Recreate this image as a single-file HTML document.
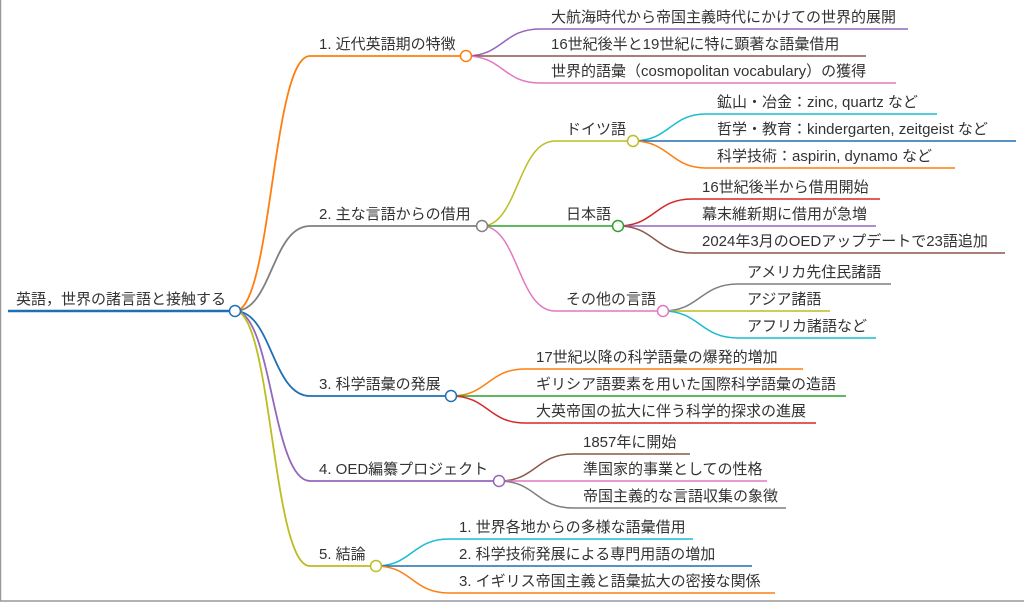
<!DOCTYPE html>
<html><head><meta charset="utf-8"><style>
html,body{margin:0;padding:0;background:#fff;}
svg{display:block;}
text{font-family:"Liberation Sans","Noto Sans CJK JP",sans-serif;font-size:15px;fill:#333;}
</style></head><body>
<svg width="1024" height="603" viewBox="0 0 1024 603" xmlns="http://www.w3.org/2000/svg">
<rect x="0.5" y="-1" width="1030" height="602" fill="none" stroke="#999" stroke-width="1.5"/>
<g fill="none">
<path d="M8 311H235" stroke="#1f6fb4" stroke-width="2.5"/>
<path d="M235 311C272 311 272 56 310 56H466" stroke="#ff7f0e" stroke-width="1.8"/>
<path d="M235 311C272 311 272 226 310 226H482" stroke="#7f7f7f" stroke-width="1.8"/>
<path d="M235 311C272 311 272 396 310 396H451" stroke="#1f6fb4" stroke-width="1.8"/>
<path d="M235 311C272 311 272 481 310 481H499" stroke="#9467bd" stroke-width="1.8"/>
<path d="M235 311C272 311 272 566 310 566H376" stroke="#bcbd22" stroke-width="1.8"/>
<path d="M466 56C503 56 503 29 540 29H908" stroke="#9467bd" stroke-width="1.5"/>
<path d="M466 56H866" stroke="#8c564b" stroke-width="1.5"/>
<path d="M466 56C503 56 503 83 540 83H896" stroke="#e377c2" stroke-width="1.5"/>
<path d="M482 226C518 226 518 141 555 141H633" stroke="#bcbd22" stroke-width="1.5"/>
<path d="M482 226H618" stroke="#2ca02c" stroke-width="1.5"/>
<path d="M482 226C518 226 518 311 555 311H663" stroke="#e377c2" stroke-width="1.5"/>
<path d="M633 141C670 141 670 114 706 114H937" stroke="#17becf" stroke-width="1.5"/>
<path d="M633 141H1016" stroke="#1f6fb4" stroke-width="1.5"/>
<path d="M633 141C670 141 670 168 706 168H955" stroke="#ff7f0e" stroke-width="1.5"/>
<path d="M618 226C655 226 655 199 692 199H880" stroke="#d62728" stroke-width="1.5"/>
<path d="M618 226H876" stroke="#9467bd" stroke-width="1.5"/>
<path d="M618 226C655 226 655 253 692 253H1005" stroke="#8c564b" stroke-width="1.5"/>
<path d="M663 311C700 311 700 284 738 284H891" stroke="#7f7f7f" stroke-width="1.5"/>
<path d="M663 311H830" stroke="#bcbd22" stroke-width="1.5"/>
<path d="M663 311C700 311 700 338 738 338H876" stroke="#17becf" stroke-width="1.5"/>
<path d="M451 396C488 396 488 369 525 369H803" stroke="#ff7f0e" stroke-width="1.5"/>
<path d="M451 396H846" stroke="#2ca02c" stroke-width="1.5"/>
<path d="M451 396C488 396 488 423 525 423H816" stroke="#d62728" stroke-width="1.5"/>
<path d="M499 481C536 481 536 454 573 454H690" stroke="#8c564b" stroke-width="1.5"/>
<path d="M499 481H767" stroke="#e377c2" stroke-width="1.5"/>
<path d="M499 481C536 481 536 508 573 508H786" stroke="#7f7f7f" stroke-width="1.5"/>
<path d="M376 566C412 566 412 539 449 539H693" stroke="#17becf" stroke-width="1.5"/>
<path d="M376 566H752" stroke="#1f6fb4" stroke-width="1.5"/>
<path d="M376 566C412 566 412 593 449 593H775" stroke="#ff7f0e" stroke-width="1.5"/>
</g>
<g fill="#fff" stroke-width="1.5">
<circle cx="235" cy="311" r="5.5" stroke="#1f6fb4"/>
<circle cx="466" cy="56" r="5.5" stroke="#ff7f0e"/>
<circle cx="482" cy="226" r="5.5" stroke="#7f7f7f"/>
<circle cx="451" cy="396" r="5.5" stroke="#1f6fb4"/>
<circle cx="499" cy="481" r="5.5" stroke="#9467bd"/>
<circle cx="376" cy="566" r="5.5" stroke="#bcbd22"/>
<circle cx="633" cy="141" r="5.5" stroke="#bcbd22"/>
<circle cx="618" cy="226" r="5.5" stroke="#2ca02c"/>
<circle cx="663" cy="311" r="5.5" stroke="#e377c2"/>
</g>
<text x="16" y="304">英語，世界の諸言語と接触する</text>
<text x="319" y="49">1. 近代英語期の特徴</text>
<text x="319" y="219">2. 主な言語からの借用</text>
<text x="319" y="389">3. 科学語彙の発展</text>
<text x="319" y="474">4. OED編纂プロジェクト</text>
<text x="319" y="559">5. 結論</text>
<text x="551" y="22">大航海時代から帝国主義時代にかけての世界的展開</text>
<text x="551" y="49">16世紀後半と19世紀に特に顕著な語彙借用</text>
<text x="551" y="76">世界的語彙（cosmopolitan vocabulary）の獲得</text>
<text x="566" y="134">ドイツ語</text>
<text x="566" y="219">日本語</text>
<text x="566" y="304">その他の言語</text>
<text x="717" y="107">鉱山・冶金：zinc, quartz など</text>
<text x="717" y="134">哲学・教育：kindergarten, zeitgeist など</text>
<text x="717" y="161">科学技術：aspirin, dynamo など</text>
<text x="702" y="192">16世紀後半から借用開始</text>
<text x="702" y="219">幕末維新期に借用が急増</text>
<text x="702" y="246">2024年3月のOEDアップデートで23語追加</text>
<text x="747" y="277">アメリカ先住民諸語</text>
<text x="747" y="304">アジア諸語</text>
<text x="747" y="331">アフリカ諸語など</text>
<text x="536" y="362">17世紀以降の科学語彙の爆発的増加</text>
<text x="536" y="389">ギリシア語要素を用いた国際科学語彙の造語</text>
<text x="536" y="416">大英帝国の拡大に伴う科学的探求の進展</text>
<text x="583" y="447">1857年に開始</text>
<text x="583" y="474">準国家的事業としての性格</text>
<text x="583" y="501">帝国主義的な言語収集の象徴</text>
<text x="459" y="532">1. 世界各地からの多様な語彙借用</text>
<text x="459" y="559">2. 科学技術発展による専門用語の増加</text>
<text x="459" y="586">3. イギリス帝国主義と語彙拡大の密接な関係</text>
</svg>
</body></html>
